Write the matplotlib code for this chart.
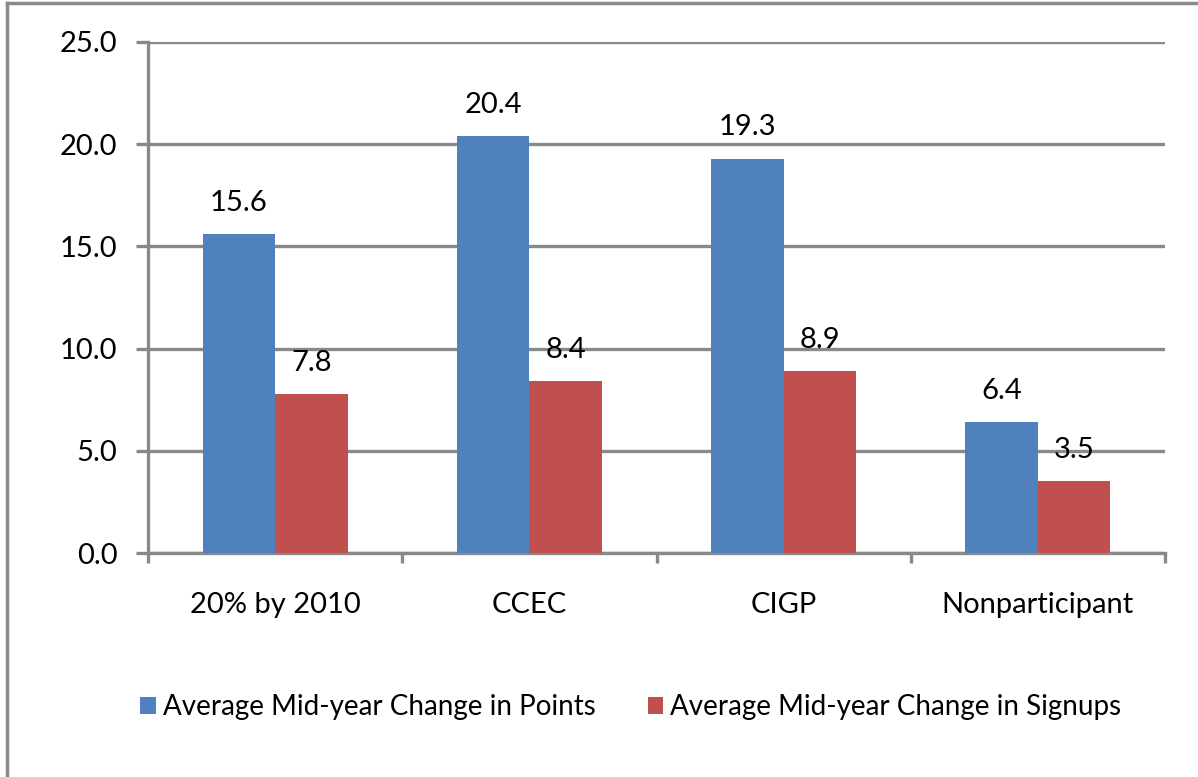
import matplotlib
matplotlib.use("Agg")
import matplotlib.pyplot as plt
import numpy as np
from matplotlib.lines import Line2D

categories = ["20% by 2010", "CCEC", "CIGP", "Nonparticipant"]
points = [15.6, 20.4, 19.3, 6.4]
signups = [7.8, 8.4, 8.9, 3.5]
series_names = ["Average Mid-year Change in Points", "Average Mid-year Change in Signups"]
yticks = [0, 5, 10, 15, 20, 25]

plt.rcParams['font.family'] = ['Lato', 'DejaVu Sans']
W, H = 1198, 777
fig = plt.figure(figsize=(W/100, H/100), dpi=100)
ax = fig.add_axes([148/W, 1-553/H, (1165-148)/W, (553-42)/H])

grey = "#898989"
x = np.arange(len(categories))
bw = 0.285
b1 = ax.bar(x - bw/2, points, bw, color="#4F81BD", zorder=3, label=series_names[0])
b2 = ax.bar(x + bw/2, signups, bw, color="#C0504D", zorder=3, label=series_names[1])

for bars in (b1, b2):
    for r in bars:
        ax.annotate(f"{r.get_height():.1f}", (r.get_x() + r.get_width()/2, r.get_height()),
                    xytext=(0, 13), textcoords="offset points", ha="center", va="bottom",
                    fontsize=21, color="black")

ax.set_xlim(-0.5, len(categories) - 0.5)
ax.set_ylim(0, 25)
ax.set_yticks(yticks)
ax.set_yticklabels([f"{v:.1f}" for v in yticks])
ax.yaxis.grid(True, color=grey, linewidth=2.4, zorder=0)
ax.set_axisbelow(True)

ax.set_xticks(x)
ax.set_xticklabels(categories)
ax.set_xticks(np.arange(len(categories) + 1) - 0.5, minor=True)
ax.tick_params(axis="x", which="major", length=0, pad=28, labelsize=21)
ax.tick_params(axis="x", which="minor", length=7, width=2.4, color=grey, direction="out")
ax.tick_params(axis="y", length=9, width=2.4, color=grey, direction="out", pad=13, labelsize=21)

for s in ("top", "right"):
    ax.spines[s].set_visible(False)
for s in ("left", "bottom"):
    ax.spines[s].set_color(grey)
    ax.spines[s].set_linewidth(2.4)

leg = fig.legend(handles=[b1, b2], loc="center", bbox_to_anchor=(631/W, 1-707/H),
                 ncol=2, frameon=False, fontsize=20, handlelength=0.55, handleheight=0.55,
                 handletextpad=0.25, columnspacing=1.9)

fig.add_artist(Line2D([7/W, 7/W], [0, 1-3/H], transform=fig.transFigure, color=grey, linewidth=2.5))
fig.add_artist(Line2D([7/W, 1], [1-3/H, 1-3/H], transform=fig.transFigure, color=grey, linewidth=2.5))

fig.savefig("out.png", dpi=100)
